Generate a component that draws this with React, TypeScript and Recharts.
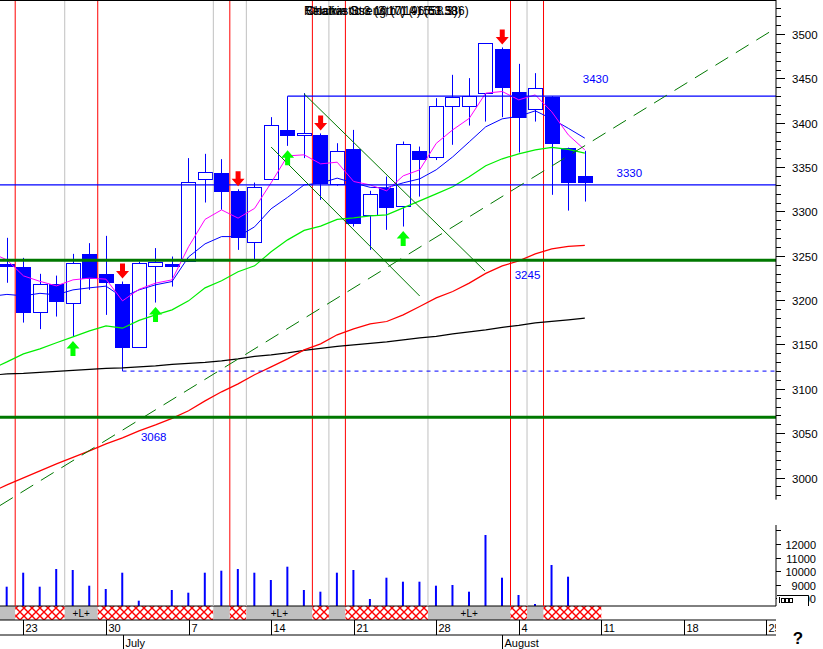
import React from 'react';
import {
  ComposedChart,
  Bar,
  Line,
  Scatter,
  XAxis,
  YAxis,
  ReferenceLine,
  ReferenceArea,
  ReferenceDot,
} from 'recharts';

// daily candles, index 0 = Fri Jun 20 ... index 35 = Fri Aug 8
const opens = [3241, 3237.2, 3186.8, 3218.4, 3196.6, 3252.2, 3229.7, 3218.4, 3147.7, 3238.7, 3241, 3244, 3336.5, 3343.2, 3323.3, 3266.1, 3336.5, 3392.1, 3386.1, 3386.1, 3331.2, 3370.6, 3295.9, 3326.3, 3306.4, 3368.4, 3361.3, 3419.1, 3419.5, 3434.1, 3483.4, 3434.6, 3415.4, 3429.3, 3371.4, 3340.5];
const highs = [3270.3, 3247.7, 3229.7, 3227.7, 3252.2, 3264.3, 3272.5, 3221, 3243.5, 3258.7, 3249.2, 3360.2, 3365, 3359, 3325, 3332.6, 3406.4, 3430, 3433.5, 3388, 3377, 3392, 3323.3, 3339.4, 3378.9, 3373.2, 3427.8, 3454.1, 3450.4, 3490, 3485, 3466.5, 3456, 3430, 3372, 3368.4];
const lows = [3219.6, 3174.7, 3167.3, 3181.5, 3159, 3211.6, 3183.4, 3120, 3147, 3197.3, 3215.3, 3243, 3310.1, 3301.8, 3256.7, 3245, 3336.5, 3374, 3360.2, 3313.1, 3329, 3283, 3256.7, 3279.3, 3283, 3316.8, 3358, 3375.2, 3396.9, 3401.4, 3406.4, 3366.5, 3401.4, 3318.8, 3301, 3311.2];
const closes = [3239.5, 3187.1, 3218.4, 3199.6, 3241.7, 3225.5, 3221, 3147.7, 3241.7, 3242.9, 3239.5, 3333.8, 3345, 3323.6, 3271.7, 3327.4, 3397.4, 3386.8, 3388.3, 3332, 3368, 3287.5, 3319.9, 3305.6, 3376, 3359, 3419.1, 3429.6, 3430.8, 3489.8, 3440.9, 3406.4, 3439.1, 3377.7, 3333.8, 3333.4];
const volumes = [8849, 9882, 8849, 10155, 10081, 8923, 8679, 9882, 7816, 7300, 8605, 8406, 9882, 10030, 10155, 9882, 9343, 10325, 8605, 8480, 9882, 10081, 7941, 9513, 9218, 9218, 8923, 8974, 8480, 12664, 9513, 8236, 7572, 10450, 9587, 7300];

// moving averages, first value is the day before index 0 (Thu Jun 19)
const ma5 = [3253.8, 3245.4, 3227.4, 3221.2, 3216.1, 3222.9, 3224.8, 3223.7, 3199.2, 3212.2, 3219.2, 3222.9, 3260.2, 3291.1, 3301.8, 3292.5, 3303.5, 3332.3, 3362.7, 3363.9, 3353.7, 3355.6, 3333.8, 3330, 3323.3, 3340.2, 3347, 3376.8, 3392.1, 3405, 3433.5, 3435.3, 3425.9, 3431.5, 3412.4, 3386.4, 3369.5];
const ma10 = [3204.2, 3206.5, 3204.9, 3207.7, 3206, 3211.6, 3213.9, 3215.8, 3203.2, 3211.6, 3217.3, 3221, 3248.8, 3263.5, 3271.7, 3271.7, 3282.7, 3303, 3316, 3330, 3332, 3337.6, 3332.3, 3327.2, 3326.7, 3332.3, 3336.8, 3347, 3361.6, 3378.5, 3395.5, 3404.5, 3407.3, 3413.5, 3404.5, 3393.8, 3382.7];
const ma20 = [3121.8, 3130.4, 3139.4, 3145.1, 3151.9, 3158.6, 3165.4, 3171, 3168.4, 3177.2, 3183.4, 3189.1, 3199.2, 3213.9, 3221.8, 3232, 3238.7, 3254.5, 3268, 3278.7, 3283.5, 3291.1, 3292.8, 3295.1, 3296.2, 3304.1, 3312, 3319.9, 3327.8, 3339.1, 3351.5, 3359.4, 3365, 3369.5, 3372.4, 3370.1, 3365.8];
const ma50 = [2983.1, 2991.7, 2999.6, 3007.5, 3015.4, 3022.7, 3030, 3037.9, 3044.7, 3052.6, 3059.4, 3066.7, 3075.2, 3086.4, 3096.6, 3105.6, 3115.8, 3124.8, 3133.8, 3143.9, 3150.7, 3160.9, 3167.6, 3173.3, 3175.9, 3183.4, 3192.8, 3202.6, 3209.7, 3219.2, 3230.2, 3238.7, 3244.3, 3252.2, 3257.9, 3260.7, 3261.8];
const ma200 = [3115.1, 3116.9, 3117.5, 3118.6, 3119.7, 3120.8, 3121.9, 3123.1, 3123.6, 3124.8, 3125.9, 3127.6, 3128.7, 3129.9, 3131.6, 3133.8, 3136.6, 3138.3, 3140.6, 3143.4, 3145.6, 3147.9, 3149.6, 3151.3, 3153, 3155.2, 3157.5, 3159.2, 3162, 3164.3, 3166.5, 3169.3, 3171.6, 3174.4, 3176.1, 3177.8, 3179.7];

const dayTicks = [1, 6, 11, 16, 21, 26, 31, 36, 41, 46];
const dayLabels = ['23', '30', '7', '14', '21', '28', '4', '11', '18', '25'];
const monthTicks = [7, 30];
const monthLabels = ['July', 'August'];
const priceLabels = [3000, 3050, 3100, 3150, 3200, 3250, 3300, 3350, 3400, 3450, 3500];
const volumeLabels = [8000, 9000, 10000, 11000, 12000];
const volumeTicks = [8000, 9000, 10000, 11000, 12000, 13000];

const sellSignals = [7, 14, 19, 30];
const buySignals = [4, 9, 17, 24];
const redMarkers = [0.5, 5.5, 13.5, 18.5, 20.5, 30.5, 32.5];
const grayMarkers = [3.5, 12.5, 14.5, 19.5, 25.5, 31.5];
const bandStates = [
  { from: -0.42, to: 0.5, state: 'long', tag: '' },
  { from: 0.5, to: 3.5, state: 'short', tag: '' },
  { from: 3.5, to: 5.5, state: 'long', tag: '+L+' },
  { from: 5.5, to: 12.5, state: 'short', tag: '' },
  { from: 12.5, to: 13.5, state: 'long', tag: '' },
  { from: 13.5, to: 14.5, state: 'short', tag: '' },
  { from: 14.5, to: 18.5, state: 'long', tag: '+L+' },
  { from: 18.5, to: 19.5, state: 'short', tag: '' },
  { from: 19.5, to: 20.5, state: 'long', tag: '' },
  { from: 20.5, to: 25.5, state: 'short', tag: '' },
  { from: 25.5, to: 30.5, state: 'long', tag: '+L+' },
  { from: 30.5, to: 31.5, state: 'short', tag: '' },
  { from: 31.5, to: 32.5, state: 'long', tag: '' },
  { from: 32.5, to: 36, state: 'short', tag: '' },
];

const resistance = 3430;
const pivot = 3330;
const supports = [3245, 3068];

const X_MIN = -0.42;
const X_MAX = 46.58;
const P_MIN = 2839.3;
const P_MAX = 3538.5;
const V_MIN = 6391;
const V_MAX = 52147;
const V_BASE = 7424;
const PLOT_RIGHT = 776;
const FONT = '"Liberation Sans", Arial, sans-serif';

const minorPriceTicks: number[] = [];
for (let p = 2980; p <= 3530; p += 10) minorPriceTicks.push(p);

const data = opens.map((o, i) => ({
  i,
  o,
  h: highs[i],
  l: lows[i],
  c: closes[i],
  v: volumes[i],
  m5: ma5[i + 1],
  m10: ma10[i + 1],
  m20: ma20[i + 1],
  m50: ma50[i + 1],
  m200: ma200[i + 1],
}));

// the averages continue off the left edge: short stub from the prior day
const maStubs = [
  { values: ma200, color: '#000000' },
  { values: ma50, color: '#ff0000' },
  { values: ma20, color: '#00ee00' },
  { values: ma10, color: '#0000ff' },
  { values: ma5, color: '#ff00ff' },
];

const sellData = sellSignals.map((i) => ({ i, y: highs[i] }));
const buyData = buySignals.map((i) => ({ i, y: lows[i] }));

const Candle = (props: any) => {
  const { x, y, width, height, payload } = props;
  if (!payload || payload.o == null || !isFinite(y) || !isFinite(height)) return <g />;
  const top = Math.min(y, y + height);
  const bot = Math.max(y, y + height);
  const k = (bot - top) / (payload.h - payload.l);
  const py = (v: number) => top + (payload.h - v) * k;
  const cx = Math.round(x + width / 2) + 0.5;
  const yo = py(payload.o);
  const yc = py(payload.c);
  const bt = Math.round(Math.min(yo, yc)) + 0.5;
  const bb = Math.max(Math.round(Math.max(yo, yc)) + 0.5, bt + 2);
  const up = payload.c > payload.o;
  return (
    <g>
      <line x1={cx} x2={cx} y1={top} y2={bot} stroke="#0000ff" />
      <rect x={cx - 7} y={bt} width={14} height={bb - bt} fill={up ? '#ffffff' : '#0000ff'} stroke="#0000ff" />
    </g>
  );
};

const DownArrow = (props: any) => {
  const { cx, cy } = props;
  if (!isFinite(cx) || !isFinite(cy)) return <g />;
  const t = cy - 3;
  return (
    <path
      d={`M${cx - 2.5},${t - 15} L${cx + 2.5},${t - 15} L${cx + 2.5},${t - 7.5} L${cx + 6.5},${t - 7.5} L${cx},${t} L${cx - 6.5},${t - 7.5} L${cx - 2.5},${t - 7.5} Z`}
      fill="#ff0000"
    />
  );
};

const UpArrow = (props: any) => {
  const { cx, cy } = props;
  if (!isFinite(cx) || !isFinite(cy)) return <g />;
  const t = cy + 4.5;
  return (
    <path
      d={`M${cx - 2.5},${t + 15} L${cx + 2.5},${t + 15} L${cx + 2.5},${t + 7.5} L${cx + 6.5},${t + 7.5} L${cx},${t} L${cx - 6.5},${t + 7.5} L${cx - 2.5},${t + 7.5} Z`}
      fill="#00ff00"
    />
  );
};

const PriceTick = (props: any) => {
  const { x, y, payload } = props;
  const major = payload.value % 50 === 0;
  const yy = Math.round(y) + 0.5;
  return (
    <g>
      <line x1={x} x2={x + (major ? 9 : 5)} y1={yy} y2={yy} stroke="#000" />
      {major && priceLabels.includes(payload.value) && (
        <text x={x + 16} y={yy + 4} fontSize={11.5} fill="#000" fontFamily={FONT}>
          {payload.value}
        </text>
      )}
    </g>
  );
};

// volume scale marks drawn at the right edge of the plot via the volume axis scale
const VolumeMark = (props: any) => {
  const { cx, cy, value } = props;
  if (!isFinite(cx) || !isFinite(cy)) return <g />;
  const yy = Math.round(cy) + 0.5;
  return (
    <g>
      <line x1={cx} x2={cx + 5} y1={yy} y2={yy} stroke="#000" />
      {volumeLabels.includes(value) && (
        <text x={cx + 40} y={yy + 4} fontSize={11} fill="#000" textAnchor="end" fontFamily={FONT}>
          {value}
        </text>
      )}
    </g>
  );
};

const DayTick = (props: any) => {
  const { x, y, payload } = props;
  const label = dayLabels[dayTicks.indexOf(payload.value)];
  const gx = Math.round(x) + 0.5;
  return (
    <g>
      <line x1={gx} x2={gx} y1={y} y2={y + 15} stroke="#000" />
      <svg x={gx} y={y} width={Math.max(0, PLOT_RIGHT - gx)} height={15} overflow="hidden">
        <text x={2} y={12} fontSize={11} fill="#000" fontFamily={FONT}>
          {label}
        </text>
      </svg>
    </g>
  );
};

const MonthTick = (props: any) => {
  const { x, y, payload } = props;
  const label = monthLabels[monthTicks.indexOf(payload.value)];
  const gx = Math.round(x) + 0.5;
  return (
    <g>
      <line x1={gx} x2={gx} y1={y} y2={y + 14} stroke="#000" />
      <text x={gx + 2} y={y + 12} fontSize={11} fill="#000" fontFamily={FONT}>
        {label}
      </text>
    </g>
  );
};

const App: React.FC = () => {
  return (
    <div style={{ position: 'absolute', left: 0, top: 0, width: 823, height: 649, background: '#fff', fontFamily: FONT }}>
      <ComposedChart width={823} height={649} data={data} margin={{ top: 0, right: 0, bottom: 0, left: 0 }}>
        <defs>
          <pattern id="hatch" width="8" height="8" patternUnits="userSpaceOnUse">
            <rect width="8" height="8" fill="#ffffff" />
            <path d="M0,0 L8,8 M8,0 L0,8" stroke="#ff0000" strokeWidth="1.4" />
          </pattern>
        </defs>

        <XAxis
          xAxisId={0}
          dataKey="i"
          type="number"
          domain={[X_MIN, X_MAX]}
          allowDataOverflow
          ticks={dayTicks}
          interval={0}
          height={15}
          tickSize={0}
          tickMargin={0}
          tickLine={false}
          axisLine={{ stroke: '#000' }}
          tick={(p: any) => <DayTick {...p} />}
        />
        <XAxis
          xAxisId="m"
          dataKey="i"
          type="number"
          domain={[X_MIN, X_MAX]}
          allowDataOverflow
          ticks={monthTicks}
          interval={0}
          height={14}
          tickSize={0}
          tickMargin={0}
          tickLine={false}
          axisLine={{ stroke: '#000' }}
          tick={(p: any) => <MonthTick {...p} />}
        />
        <YAxis
          yAxisId="p"
          orientation="right"
          width={47}
          type="number"
          domain={[P_MIN, P_MAX]}
          allowDataOverflow
          ticks={minorPriceTicks}
          interval={0}
          tickSize={0}
          tickMargin={0}
          tickLine={false}
          axisLine={false}
          tick={(p: any) => <PriceTick {...p} />}
        />
        <YAxis yAxisId="v" orientation="right" hide type="number" domain={[V_MIN, V_MAX]} allowDataOverflow />

        {bandStates.map((b, n) => (
          <ReferenceArea
            key={`band${n}`}
            xAxisId={0}
            yAxisId="v"
            x1={b.from}
            x2={b.to}
            y1={V_MIN}
            y2={V_BASE}
            fill={b.state === 'long' ? '#c0c0c0' : 'url(#hatch)'}
            fillOpacity={1}
            stroke="none"
            ifOverflow="hidden"
            label={b.tag ? { value: b.tag, position: 'center', fill: '#000', fontSize: 10, fontFamily: FONT } : undefined}
          />
        ))}
        <ReferenceLine xAxisId={0} yAxisId="v" y={V_BASE} stroke="#000" />

        {grayMarkers.map((m) => (
          <ReferenceLine key={`g${m}`} xAxisId={0} yAxisId="v" segment={[{ x: m, y: V_BASE }, { x: m, y: V_MAX }]} stroke="#c0c0c0" />
        ))}
        {redMarkers.map((m) => (
          <ReferenceLine key={`r${m}`} xAxisId={0} yAxisId="v" segment={[{ x: m, y: V_BASE }, { x: m, y: V_MAX }]} stroke="#ff0000" />
        ))}

        <Bar
          xAxisId="m"
          yAxisId="v"
          dataKey={(d: any) => [V_BASE, Math.max(V_BASE, d.v)]}
          barSize={2}
          fill="#0000ff"
          isAnimationActive={false}
        />

        <Bar
          xAxisId={0}
          yAxisId="p"
          dataKey={(d: any) => [d.l, d.h]}
          barSize={14}
          shape={(p: any) => <Candle {...p} />}
          isAnimationActive={false}
        />

        {maStubs.map((s, n) => (
          <ReferenceLine
            key={`stub${n}`}
            xAxisId={0}
            yAxisId="p"
            segment={[{ x: -1, y: s.values[0] }, { x: 0, y: s.values[1] }]}
            stroke={s.color}
            strokeWidth={n < 3 ? 1.2 : 1}
            ifOverflow="hidden"
          />
        ))}
        <Line xAxisId={0} yAxisId="p" dataKey="m200" stroke="#000000" strokeWidth={1.2} dot={false} activeDot={false} isAnimationActive={false} />
        <Line xAxisId={0} yAxisId="p" dataKey="m50" stroke="#ff0000" strokeWidth={1.2} dot={false} activeDot={false} isAnimationActive={false} />
        <Line xAxisId={0} yAxisId="p" dataKey="m20" stroke="#00ee00" strokeWidth={1.2} dot={false} activeDot={false} isAnimationActive={false} />
        <Line xAxisId={0} yAxisId="p" dataKey="m10" stroke="#0000ff" strokeWidth={1} dot={false} activeDot={false} isAnimationActive={false} />
        <Line xAxisId={0} yAxisId="p" dataKey="m5" stroke="#ff00ff" strokeWidth={1} dot={false} activeDot={false} isAnimationActive={false} />

        {supports.map((s) => (
          <ReferenceLine key={`s${s}`} xAxisId={0} yAxisId="p" y={s} stroke="#007800" strokeWidth={3} />
        ))}
        <ReferenceLine xAxisId={0} yAxisId="p" y={pivot} stroke="#0000ff" strokeWidth={1.2} />
        <ReferenceLine xAxisId={0} yAxisId="p" segment={[{ x: 17, y: resistance }, { x: X_MAX, y: resistance }]} stroke="#0000ff" strokeWidth={1.2} ifOverflow="hidden" />
        <ReferenceLine xAxisId={0} yAxisId="p" segment={[{ x: 7, y: lows[7] }, { x: X_MAX, y: lows[7] }]} stroke="#0000ff" strokeDasharray="4 4" ifOverflow="hidden" />
        <ReferenceLine xAxisId={0} yAxisId="p" segment={[{ x: 16, y: 3372.7 }, { x: 25, y: 3204.7 }]} stroke="#007800" ifOverflow="hidden" />
        <ReferenceLine xAxisId={0} yAxisId="p" segment={[{ x: 18, y: 3432.6 }, { x: 28.95, y: 3232.9 }]} stroke="#007800" ifOverflow="hidden" />
        <ReferenceLine xAxisId={0} yAxisId="p" segment={[{ x: X_MIN, y: 2968.4 }, { x: X_MAX, y: 3506.9 }]} stroke="#007800" strokeDasharray="15 9" ifOverflow="hidden" />

        <ReferenceLine xAxisId={0} yAxisId="p" y={P_MAX} stroke="#000" strokeWidth={2} />
        <ReferenceLine xAxisId={0} yAxisId="p" segment={[{ x: X_MAX, y: 2975 }, { x: X_MAX, y: P_MAX }]} stroke="#000" ifOverflow="visible" />
        <ReferenceLine xAxisId={0} yAxisId="v" segment={[{ x: X_MAX, y: V_BASE }, { x: X_MAX, y: 13400 }]} stroke="#000" ifOverflow="visible" />
        {volumeTicks.map((v) => (
          <ReferenceDot
            key={`vt${v}`}
            xAxisId={0}
            yAxisId="v"
            x={X_MAX}
            y={v}
            r={1}
            ifOverflow="visible"
            shape={(p: any) => <VolumeMark {...p} value={v} />}
          />
        ))}

        <Scatter xAxisId={0} yAxisId="p" data={sellData} dataKey="y" shape={(p: any) => <DownArrow {...p} />} isAnimationActive={false} />
        <Scatter xAxisId={0} yAxisId="p" data={buyData} dataKey="y" shape={(p: any) => <UpArrow {...p} />} isAnimationActive={false} />

        <ReferenceDot xAxisId={0} yAxisId="p" x={35.65} y={3450} r={0} fill="none" stroke="none" label={{ value: String(resistance), position: 'center', fill: '#0000ff', fontSize: 11.5, fontFamily: FONT }} />
        <ReferenceDot xAxisId={0} yAxisId="p" x={37.7} y={3343.5} r={0} fill="none" stroke="none" label={{ value: String(pivot), position: 'center', fill: '#0000ff', fontSize: 11.5, fontFamily: FONT }} />
        <ReferenceDot xAxisId={0} yAxisId="p" x={31.53} y={3228.4} r={0} fill="none" stroke="none" label={{ value: String(supports[0]), position: 'center', fill: '#0000ff', fontSize: 11.5, fontFamily: FONT }} />
        <ReferenceDot xAxisId={0} yAxisId="p" x={8.89} y={3046.3} r={0} fill="none" stroke="none" label={{ value: String(supports[1]), position: 'center', fill: '#0000ff', fontSize: 11.5, fontFamily: FONT }} />
      </ComposedChart>

      <svg width={823} height={649} style={{ position: 'absolute', left: 0, top: 0, pointerEvents: 'none' }}>
        <g fontFamily={FONT} fontSize={12} fill="#000">
          <text x={304} y={15}>Relative Strength (14) (61.536)</text>
          <text x={305} y={15}>Stochastic 3 10 (71.96,53.38)</text>
          <text x={306} y={15}>Chaikin Osc (3,10) (-1558.3)</text>
        </g>
        <rect x={777} y={595} width={31} height={11} fill="#fff" />
        <path d="M777,595.5 H808.5 V606" stroke="#000" fill="none" />
        <path d="M779.5,597 V603" stroke="#000" />
        <rect x={781.5} y={598.5} width={3} height={4} fill="none" stroke="#000" />
        <rect x={785.5} y={598.5} width={3} height={4} fill="none" stroke="#000" />
        <rect x={789.5} y={598.5} width={3} height={4} fill="none" stroke="#000" />
        <text x={798} y={644} fontFamily={FONT} fontSize={17} fontWeight="bold" textAnchor="middle" fill="#000">
          ?
        </text>
      </svg>
    </div>
  );
};

export default App;
